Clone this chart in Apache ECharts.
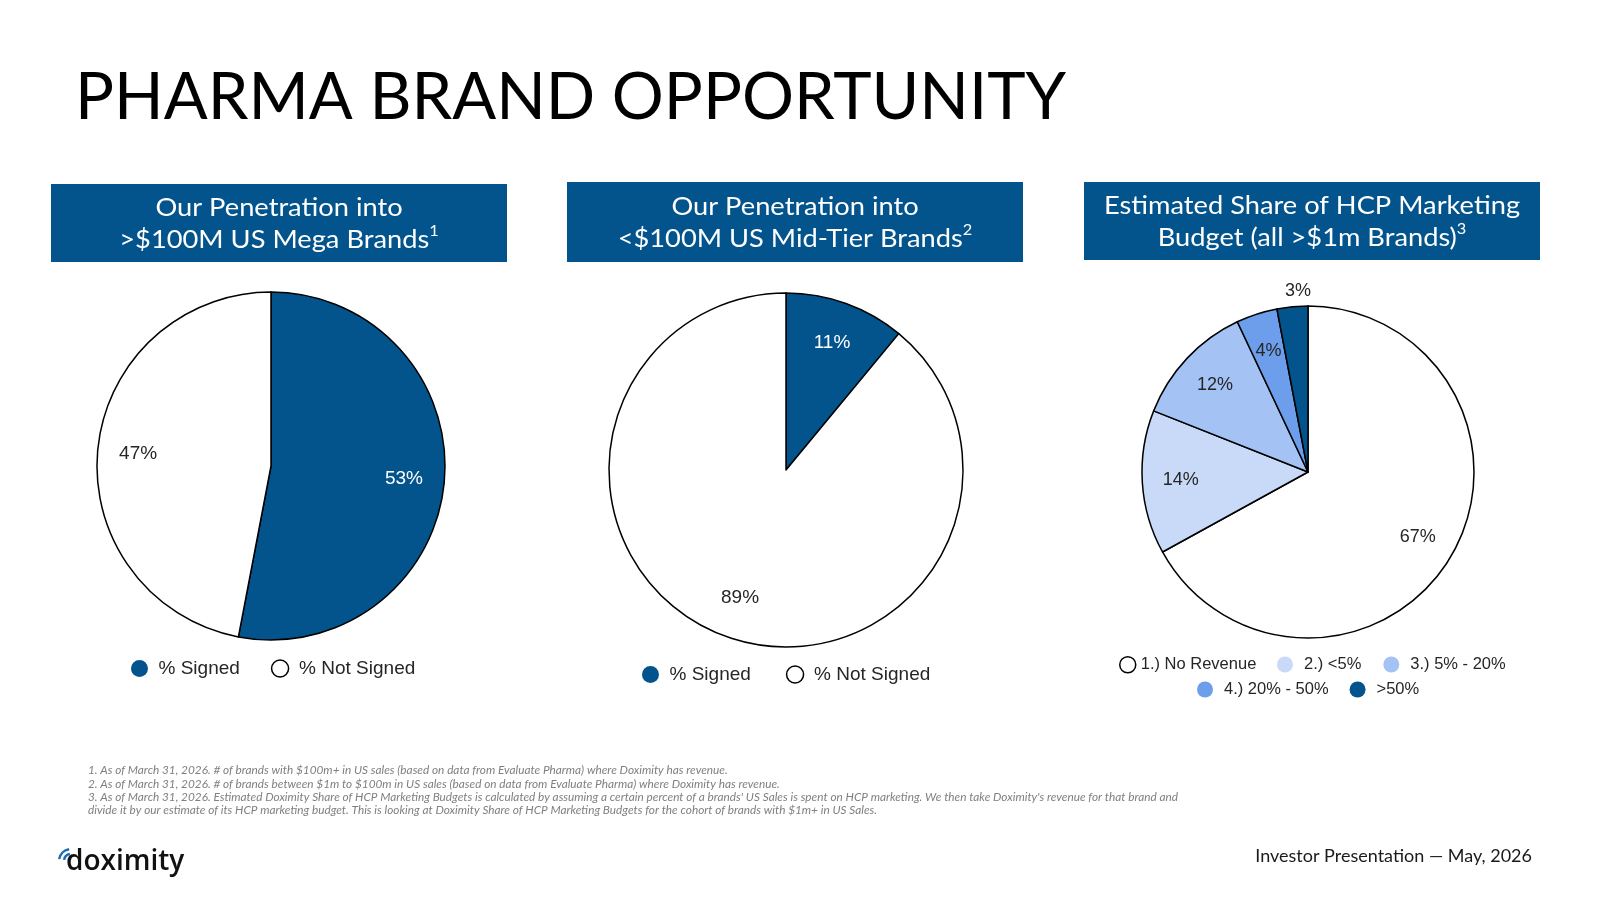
<!DOCTYPE html>
<html>
<head>
<meta charset="utf-8">
<title>Pharma Brand Opportunity</title>
<script src="https://cdn.jsdelivr.net/npm/echarts@6/dist/echarts.min.js"></script>
<style>
    html, body { margin: 0; padding: 0; background: #fff; }
    #chart { width: 1600px; height: 900px; }
</style>
</head>
<body>
<div id="chart"></div>
<script>
    // data
    var megaNames = ['% Signed', '% Not Signed'];
    var megaValues = [53, 47];
    var midNames = ['% Signed', '% Not Signed'];
    var midValues = [11, 89];
    var shareNames = ['1.) No Revenue', '2.) <5%', '3.) 5% - 20%', '4.) 20% - 50%', '>50%'];
    var shareValues = [67, 14, 12, 4, 3];

    var navy = '#03548c';
    var ink = '#262626';
    var signedColors = [navy, '#ffffff'];
    var shareColors = ['#ffffff', '#c9daf8', '#a4c2f4', '#6d9eeb', navy];

    // base pie + transparent ring on top that only carries the labels (so they sit at ~3/4 radius)
    function pieSeries(names, values, colors, center, r, fontSize, outsideIdx) {
        var base = {
            type: 'pie', center: center, radius: [0, r], startAngle: 90, clockwise: true,
            avoidLabelOverlap: false, silent: true,
            label: { show: false }, labelLine: { show: false },
            itemStyle: { borderColor: '#000', borderWidth: 1.5 },
            data: names.map(function (n, i) {
                return { name: n, value: values[i], itemStyle: { color: colors[i] } };
            })
        };
        function ring(r0, r1, pick, pad) {
            return {
                type: 'pie', center: center, radius: [r0, r1], startAngle: 90, clockwise: true,
                avoidLabelOverlap: false, silent: true, z: 5,
                itemStyle: { color: 'rgba(0,0,0,0)', borderWidth: 0 },
                labelLine: { show: false },
                label: {
                    show: true, position: 'inside', formatter: '{c}%', padding: pad,
                    fontFamily: 'Liberation Sans', fontSize: fontSize
                },
                data: names.map(function (n, i) {
                    return { name: n, value: values[i],
                        label: { show: pick(i), color: colors[i] === navy && i !== outsideIdx ? '#fff' : ink } };
                })
            };
        }
        var out = [base, ring(r * 0.5, r, function (i) { return i !== outsideIdx; }, 0)];
        if (outsideIdx >= 0) {
            out.push(ring(r * 1.02, r * 1.13, function (i) { return i === outsideIdx; }, [0, 0, 0, 14]));
        }
        return out;
    }

    function legendData(names, colors) {
        return names.map(function (n, i) {
            var white = colors[i] === '#ffffff';
            return { name: n, itemStyle: { color: colors[i], borderColor: '#000', borderWidth: white ? 1.5 : 0 } };
        });
    }

    function legend(names, colors, left, top, w, size, fontSize, gap) {
        return {
            data: legendData(names, colors), left: left, top: top, padding: 0,
            icon: 'circle', itemWidth: w, itemHeight: size, itemGap: gap,
            selectedMode: false,
            textStyle: { fontFamily: 'Liberation Sans', fontSize: fontSize, color: ink }
        };
    }

    function box(x, y, w, h) {
        return { type: 'rect', shape: { x: x, y: y, width: w, height: h }, style: { fill: navy }, silent: true };
    }

    function boxText(cx, cy, line1, line2, sup) {
        var main = { font: '25px Lato', fill: '#fff', lineHeight: 32 };
        var s = { font: '15px Lato', fill: '#fff', lineHeight: 18, verticalAlign: 'top' };
        return {
            type: 'text', silent: true, x: cx, y: cy, scaleX: 1.09,
            style: {
                x: 0, y: 0, textAlign: 'center', textVerticalAlign: 'middle',
                text: '{m|' + line1 + '}\n{m|' + line2 + '}{s|' + sup + '}',
                rich: { m: main, s: s }
            }
        };
    }

    function plain(x, y, text, font, fill, align) {
        return {
            type: 'text', silent: true,
            style: { x: x, y: y, text: text, font: font, fill: fill, textAlign: align || 'left', textVerticalAlign: 'middle' }
        };
    }

    var notes = [
        '1. As of March 31, 2026. # of brands with $100m+ in US sales (based on data from Evaluate Pharma) where Doximity has revenue.',
        '2. As of March 31, 2026. # of brands between $1m to $100m in US sales (based on data from Evaluate Pharma) where Doximity has revenue.',
        "3. As of March 31, 2026. Estimated Doximity Share of HCP Marketing Budgets is calculated by assuming a certain percent of a brands' US Sales is spent on HCP marketing. We then take Doximity's revenue for that brand and",
        'divide it by our estimate of its HCP marketing budget. This is looking at Doximity Share of HCP Marketing Budgets for the cohort of brands with $1m+ in US Sales.'
    ];

    var elements = [
        plain(75, 98.5, 'PHARMA BRAND OPPORTUNITY', '65px Lato', '#000'),
        box(51, 184, 456, 78),
        box(567, 182, 456, 80),
        box(1084, 182, 456, 78),
        boxText(279, 224, 'Our Penetration into', '>$100M US Mega Brands', '1'),
        boxText(795, 223, 'Our Penetration into', '<$100M US Mid-Tier Brands', '2'),
        boxText(1312, 222, 'Estimated Share of HCP Marketing', 'Budget (all >$1m Brands)', '3'),
        plain(1532, 856, 'Investor Presentation \u2014 May, 2026', '18px Lato', '#1a1a1a', 'right'),
        plain(66, 862, 'doximity', '600 28px "Open Sans"', '#111'),
        { type: 'arc', silent: true, shape: { cx: 71, cy: 861, r: 12, startAngle: Math.PI * 1.05, endAngle: Math.PI * 1.45 },
          style: { stroke: '#1f6db5', lineWidth: 2.5, fill: null } },
        { type: 'arc', silent: true, shape: { cx: 71, cy: 861, r: 7, startAngle: Math.PI * 1.05, endAngle: Math.PI * 1.45 },
          style: { stroke: '#1f6db5', lineWidth: 2.5, fill: null } }
    ];
    var noteY = [770, 784, 797, 810];
    notes.forEach(function (t, i) {
        elements.push(plain(88, noteY[i], t, 'italic 11.8px Lato', '#808080'));
    });

    var myChart = echarts.init(document.getElementById('chart'));
    var option = {
        animation: false,
        backgroundColor: '#fff',
        legend: [
            legend(megaNames, signedColors, 131, 659, 28, 17, 19, 31),
            legend(midNames, signedColors, 642, 665, 28, 17, 19, 35),
            legend(shareNames.slice(0, 1), shareColors.slice(0, 1), 1119, 656, 16, 16, 16.5, 15),
            legend(shareNames.slice(1, 3), shareColors.slice(1, 3), 1277, 656, 28, 16, 16.5, 22),
            legend(shareNames.slice(3), shareColors.slice(3), 1197, 681, 28, 16, 16.5, 21)
        ],
        graphic: { elements: elements },
        series: []
            .concat(pieSeries(megaNames, megaValues, signedColors, [271, 466], 174, 19, -1))
            .concat(pieSeries(midNames, midValues, signedColors, [786, 470], 177, 19, -1))
            .concat(pieSeries(shareNames, shareValues, shareColors, [1308, 472], 166, 18, 4))
    };
    myChart.setOption(option);
</script>
</body>
</html>
